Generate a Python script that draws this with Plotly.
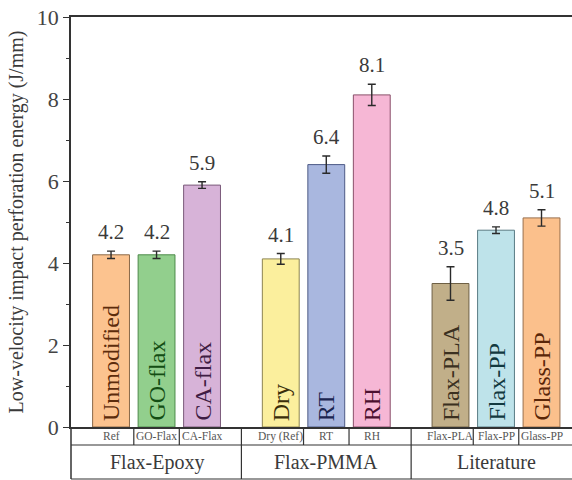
import plotly.graph_objects as go

# Perforation energy per specimen (J/mm) with standard deviations
bar_labels = ["Unmodified", "GO-flax", "CA-flax", "Dry", "RT", "RH",
              "Flax-PLA", "Flax-PP", "Glass-PP"]
cell_labels = ["Ref", "GO-Flax", "CA-Flax", "Dry (Ref)", "RT", "RH",
               "Flax-PLA", "Flax-PP", "Glass-PP"]
energy = [4.2, 4.2, 5.9, 4.1, 6.4, 8.1, 3.5, 4.8, 5.1]
energy_err = [0.09, 0.09, 0.08, 0.13, 0.21, 0.26, 0.41, 0.08, 0.20]
groups = ["Flax-Epoxy", "Flax-PMMA", "Literature"]
group_members = [[0, 1, 2], [3, 4, 5], [6, 7, 8]]
y_ticks = [0, 2, 4, 6, 8, 10]

# bar slots with a wider gap between the three groups
positions = [0, 1, 2, 3.73, 4.73, 5.73, 7.46, 8.46, 9.46]

fills = ["#FCC38F", "#92CF8D", "#D7B3D8", "#FBEF9D", "#A9B7DF", "#F6B7D5",
         "#C1AF89", "#BEE3EA", "#FBC08C"]
edges = ["#8a6848", "#4d8a4a", "#7a5a7a", "#8c8450", "#4d5a86", "#8a4f6a",
         "#6e6045", "#5a7c84", "#9a6f4c"]
inner_text = ["#5c2c0c", "#134d13", "#3f1d44", "#3a2e0a", "#1b2550", "#4c1030",
              "#3a3020", "#12393f", "#5a2608"]

FONT = "'Liberation Serif', 'Times New Roman', serif"
INK = "#333333"
W, H = 572, 480
M_L, M_R, M_T, M_B = 71, 0, 17, 53
plot_h = H - M_T - M_B
row1 = -18 / plot_h   # bottom of the specimen row
row2 = -52 / plot_h   # bottom of the group row

fig = go.Figure()
fig.add_trace(go.Bar(
    x=positions, y=energy, width=0.81,
    marker=dict(color=fills, line=dict(color=edges, width=1)),
    error_y=dict(type="data", array=energy_err, visible=True,
                 color="#2a2a2a", thickness=1.4, width=4),
    hoverinfo="skip", showlegend=False,
))

annotations = []
for x, v, e in zip(positions, energy, energy_err):
    annotations.append(dict(
        x=x, y=v + e, xref="x", yref="y", text=f"{v:.1f}", showarrow=False,
        yanchor="middle", yshift=19, font=dict(family=FONT, size=21, color="#3a3a3a")))
for x, t, c in zip(positions, bar_labels, inner_text):
    annotations.append(dict(
        x=x, y=0, xref="x", yref="y", text=t, showarrow=False, textangle=-90,
        yanchor="bottom", yshift=4, font=dict(family=FONT, size=24, color=c)))
for x, t in zip(positions, cell_labels):
    annotations.append(dict(
        x=x, y=row1 / 2, xref="x", yref="paper", text=t, showarrow=False,
        yanchor="middle", font=dict(family=FONT, size=11.5, color="#555555")))
for name, idx in zip(groups, group_members):
    cx = (positions[idx[0]] + positions[idx[-1]]) / 2
    annotations.append(dict(
        x=cx, y=(row1 + row2) / 2, xref="x", yref="paper", text=name, showarrow=False,
        yanchor="middle", font=dict(family=FONT, size=20, color="#3a3a3a")))

shapes = []
line = dict(color=INK, width=1.2)
# horizontal rules of the category table
for yy in (row1, row2):
    shapes.append(dict(type="line", xref="paper", yref="paper", x0=0, x1=1,
                       y0=yy, y1=yy, line=line))
# left border continuing the y axis
shapes.append(dict(type="line", xref="paper", yref="paper", x0=0, x1=0,
                   y0=0, y1=row2, line=dict(color=INK, width=1.5)))
# separators between specimens and between groups
for i in range(len(positions) - 1):
    mid = (positions[i] + positions[i + 1]) / 2
    same_group = any(i in g and i + 1 in g for g in group_members)
    shapes.append(dict(type="line", xref="x", yref="paper", x0=mid, x1=mid,
                       y0=0, y1=row1 if same_group else row2, line=line))

fig.update_layout(
    width=W, height=H,
    margin=dict(l=M_L, r=M_R, t=M_T, b=M_B, pad=0),
    paper_bgcolor="white", plot_bgcolor="white",
    font=dict(family=FONT, color="#3a3a3a"),
    annotations=annotations, shapes=shapes,
    xaxis=dict(range=[-0.88, 10.13], showgrid=False, zeroline=False,
               showticklabels=False, ticks="", showline=True, mirror=True,
               linecolor=INK, linewidth=1.5),
    yaxis=dict(range=[0, 10], tickvals=y_ticks, ticks="outside", ticklen=6,
               tickwidth=1.3, tickcolor=INK, showgrid=False, zeroline=False,
               showline=True, linecolor=INK, linewidth=1.5,
               tickfont=dict(family=FONT, size=22, color="#444444"),
               minor=dict(dtick=1, ticks="outside", ticklen=3.5, tickwidth=1.2,
                          tickcolor=INK, showgrid=False),
               title=dict(text="Low-velocity impact perforation energy (J/mm)",
                          font=dict(family=FONT, size=20, color="#3a3a3a"),
                          standoff=8)),
)

fig.write_html("out.html")
